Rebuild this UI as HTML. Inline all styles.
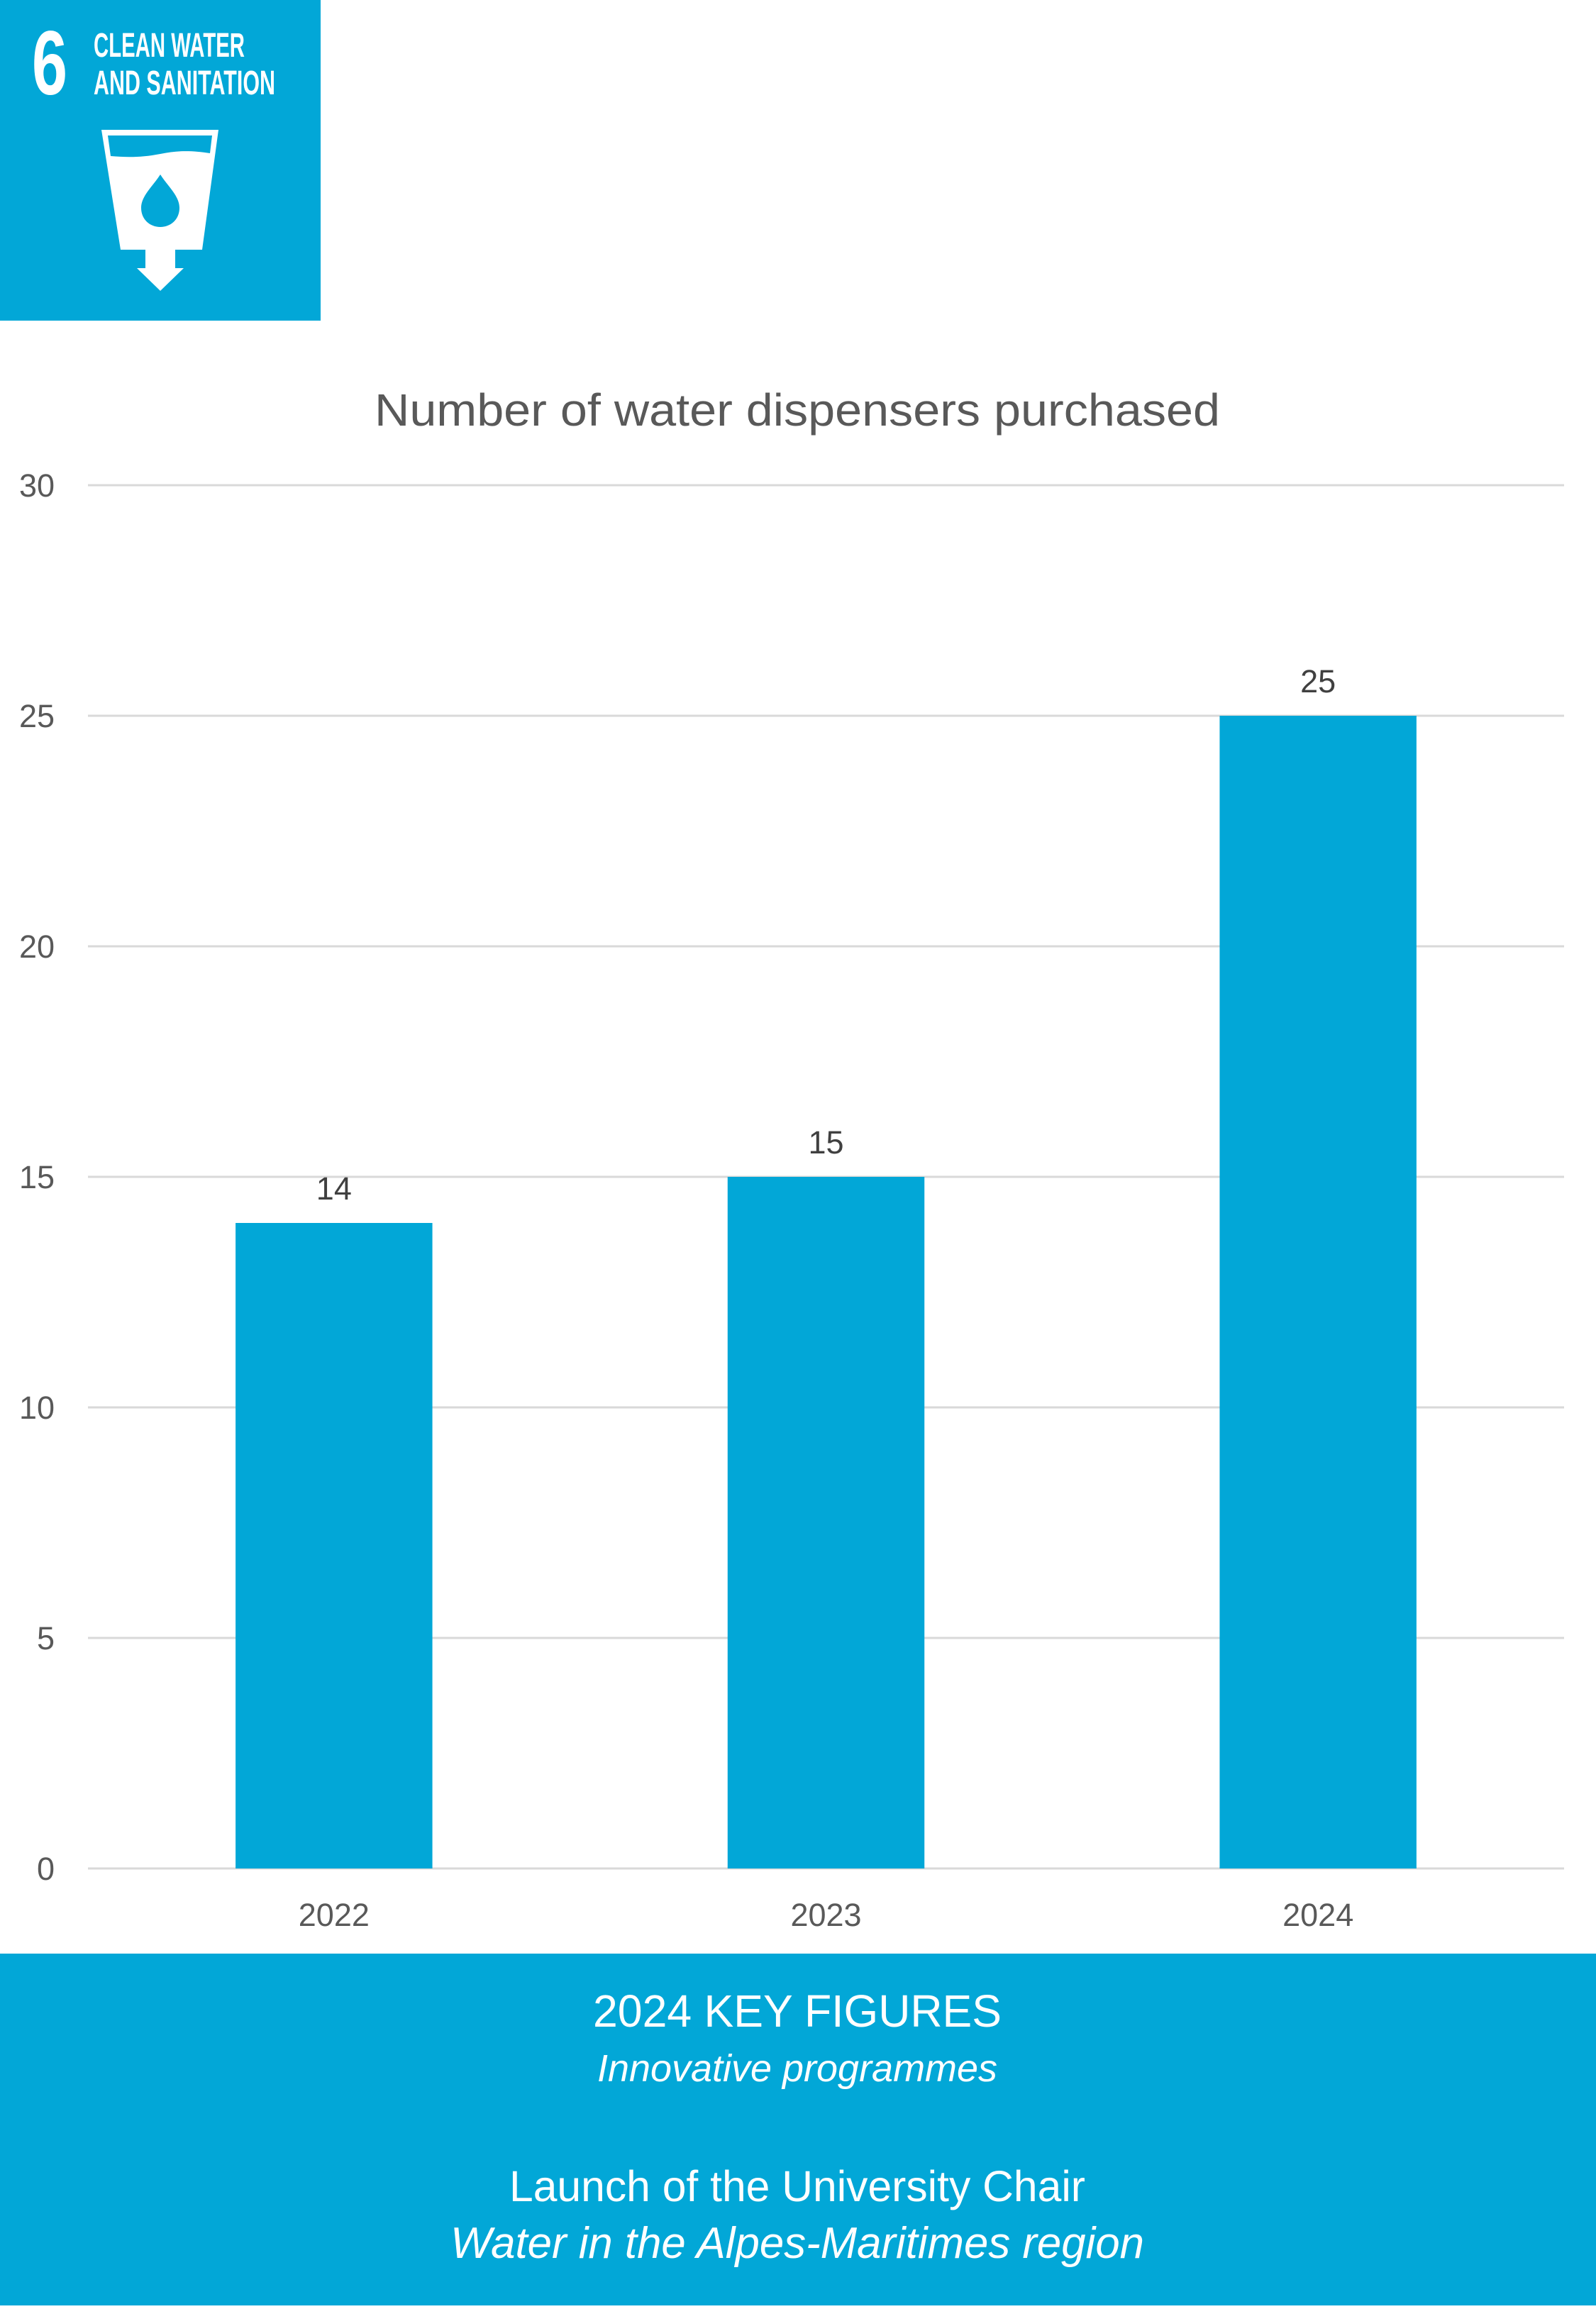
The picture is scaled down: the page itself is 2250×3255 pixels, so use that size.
<!DOCTYPE html>
<html><head><meta charset="utf-8"><style>
html,body{margin:0;padding:0;background:#fff;}
body{width:2250px;height:3250px;position:relative;overflow:hidden;font-family:"Liberation Sans",sans-serif;}
</style></head><body>
<svg width="2250" height="3250" viewBox="0 0 2250 3250" xmlns="http://www.w3.org/2000/svg">
<g>
<rect x="0" y="0" width="452" height="452" fill="#02A7D7"/>
<text x="45" y="133" font-family="Liberation Sans Narrow, Liberation Sans, sans-serif" font-weight="bold" font-size="128" fill="#fff" textLength="50" lengthAdjust="spacingAndGlyphs">6</text>
<text x="132" y="80" font-family="Liberation Sans Narrow, Liberation Sans, sans-serif" font-weight="bold" font-size="48" fill="#fff" textLength="213" lengthAdjust="spacingAndGlyphs">CLEAN WATER</text>
<text x="132" y="133" font-family="Liberation Sans Narrow, Liberation Sans, sans-serif" font-weight="bold" font-size="48" fill="#fff" textLength="256" lengthAdjust="spacingAndGlyphs">AND SANITATION</text>
<g>
<path d="M143 183 L308 183 L285 352 L247 352 L247 378 L259 378 L226 410 L193 378 L205 378 L205 352 L170 352 Z" fill="#fff"/>
<path d="M152 191 L299 191 L296 216 C270 212 250 212 226 217 C200 222 180 222 156 220 Z" fill="#02A7D7"/>
<path d="M226 246 C236 262 253 276 253 293 C253 310 240 320 226 320 C212 320 199 310 199 293 C199 276 216 262 226 246 Z" fill="#02A7D7"/>
</g>
</g>
<text x="1124" y="600" text-anchor="middle" font-size="64" fill="#595959" textLength="1192" lengthAdjust="spacingAndGlyphs">Number of water dispensers purchased</text>
<g id="chart"></g>
<rect x="0" y="2754" width="2250" height="496" fill="#02A7D7"/>
<g fill="#fff" text-anchor="middle">
<text x="1124" y="2857" font-size="64" textLength="576" lengthAdjust="spacingAndGlyphs">2024 KEY FIGURES</text>
<text x="1124" y="2934" font-size="54" font-style="italic" textLength="564" lengthAdjust="spacingAndGlyphs">Innovative programmes</text>
<text x="1124" y="3103" font-size="61" textLength="812" lengthAdjust="spacingAndGlyphs">Launch of the University Chair</text>
<text x="1124" y="3183" font-size="62" font-style="italic" textLength="978" lengthAdjust="spacingAndGlyphs">Water in the Alpes-Maritimes region</text>
</g>
</svg>
<script>
const categories = ["2022", "2023", "2024"];
const values = [14, 15, 25];
const yTicks = [0, 5, 10, 15, 20, 25, 30];
const NS = "http://www.w3.org/2000/svg";
const plotL = 124, plotR = 2205, plotT = 684, plotB = 2634, yMax = 30;
const yScale = v => plotB - (v / yMax) * (plotB - plotT);
const band = (plotR - plotL) / categories.length;
const xCenter = i => plotL + band * (i + 0.5);
const barW = band * 0.4;
const g = document.getElementById('chart');
function mk(tag, attrs) { const e = document.createElementNS(NS, tag); for (const k in attrs) e.setAttribute(k, attrs[k]); g.appendChild(e); return e; }
yTicks.forEach(t => {
  const y = yScale(t);
  const l = mk('line', {x1: plotL, x2: plotR, y1: y, y2: y, stroke: '#d9d9d9', 'stroke-width': 3});
  
  
  const tx = mk('text', {x: 77, y: y + 16, 'text-anchor': 'end', 'font-size': 45, fill: '#595959'});
  tx.textContent = t;
  
  
});
categories.forEach((c, i) => {
  const v = values[i];
  const x = xCenter(i) - barW / 2;
  const r = mk('rect', {x: x, y: yScale(v), width: barW, height: yScale(0) - yScale(v), fill: '#02A7D7'});
  
  
  const vl = mk('text', {x: xCenter(i), y: yScale(v) - 33, 'text-anchor': 'middle', 'font-size': 45, fill: '#404040'});
  vl.textContent = v;
  
  
  const xl = mk('text', {x: xCenter(i), y: 2715, 'text-anchor': 'middle', 'font-size': 45, fill: '#595959'});
  xl.textContent = c;
  
  
});
</script>
</body></html>
